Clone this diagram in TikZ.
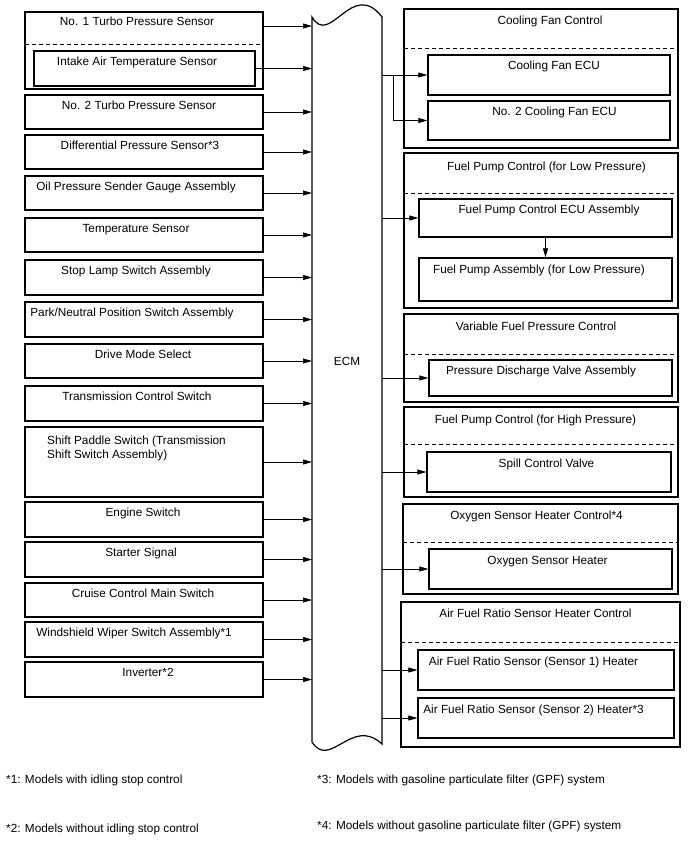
\documentclass[tikz,border=0pt]{standalone}
\usepackage{fontspec}
\setmainfont{Liberation Sans}
\usetikzlibrary{arrows.meta,fit}
\newcommand\bx[6]{\node[#1, fit={(#3,#4) (#5,#6)}] (#2) {};}
\begin{document}
\begin{tikzpicture}[x=1pt,y=-1pt,
  box/.style={draw, line width=1.3pt, inner sep=0pt, rectangle},
  grp/.style={draw, line width=1.1pt, inner sep=0pt, rectangle},
  hid/.style={inner sep=0pt, rectangle},
  dsh/.style={dash pattern=on 4pt off 3pt, line width=1pt},
  txt/.style={font=\fontsize{11.8}{14}\selectfont, inner sep=0pt, anchor=base},
  arr/.style={line width=0.7pt, -{Triangle[length=9pt,width=5pt]}}]
\useasboundingbox (0,0) rectangle (688,852);

% ECM
\draw[line width=1.2pt] (312,17) .. controls (330,48) and (352,-22) .. (382,17) -- (382,744)
  .. controls (352,716) and (330,770) .. (312,742) -- cycle;
\node[txt] (ecm) at (347,365) {ECM};
\coordinate (ecmL) at (312,0);
\coordinate (ecmR) at (382,0);

% left inputs
\bx{box}{b1}{25}{12}{263}{89}
\bx{hid}{b1top}{25}{12}{263}{40}
\draw[dsh] (25,44) -- (263,44);
\bx{box}{b1i}{34}{51}{255}{86}
\bx{box}{b2}{25}{95}{263}{129}
\bx{box}{b3}{25}{135}{263}{169}
\bx{box}{b4}{25}{176}{263}{210}
\bx{box}{b5}{25}{218}{263}{252}
\bx{box}{b6}{25}{260}{263}{295}
\bx{box}{b7}{25}{302}{263}{337}
\bx{box}{b8}{25}{344}{263}{378}
\bx{box}{b9}{25}{386}{263}{421}
\bx{box}{b10}{25}{427}{263}{497}
\bx{box}{b11}{25}{502}{263}{537}
\bx{box}{b12}{25}{542}{263}{577}
\bx{box}{b13}{25}{583}{263}{617}
\bx{box}{b14}{25}{622}{263}{657}
\bx{box}{b15}{25}{662}{263}{697}

\node[txt] (t1) at (137,25) {No. 1 Turbo Pressure Sensor};
\node[txt] (t1i) at (137,65) {Intake Air Temperature Sensor};
\node[txt] (t2) at (139,109) {No. 2 Turbo Pressure Sensor};
\node[txt] (t3) at (140,149) {Differential Pressure Sensor*3};
\node[txt] (t4) at (136,190) {Oil Pressure Sender Gauge Assembly};
\node[txt] (t5) at (136,232) {Temperature Sensor};
\node[txt] (t6) at (136,274) {Stop Lamp Switch Assembly};
\node[txt] (t7) at (132,316) {Park/Neutral Position Switch Assembly};
\node[txt] (t8) at (143,358) {Drive Mode Select};
\node[txt] (t9) at (137,400) {Transmission Control Switch};
\node[txt, anchor=north west, align=left] (t10) at (47,435.5) {Shift Paddle Switch (Transmission\\Shift Switch Assembly)};
\node[txt] (t11) at (143,516) {Engine Switch};
\node[txt] (t12) at (141,556) {Starter Signal};
\node[txt] (t13) at (143,597) {Cruise Control Main Switch};
\node[txt] (t14) at (134,636) {Windshield Wiper Switch Assembly*1};
\node[txt] (t15) at (148,676) {Inverter*2};

\foreach \b in {b1top,b1i,b2,b3,b4,b5,b6,b7,b8,b9,b10,b11,b12,b13,b14,b15}
  \draw[arr] (\b.east) -- (\b.east -| ecmL);

% right outputs
\bx{grp}{g1}{404}{9}{678}{148}
\draw[dsh] (404,48) -- (678,48);
\node[txt] (g1t) at (550,24) {Cooling Fan Control};
\bx{box}{r1}{428}{55}{670}{95}
\node[txt] (r1t) at (554,69) {Cooling Fan ECU};
\bx{box}{r2}{428}{101}{670}{140}
\node[txt] (r2t) at (554.5,115) {No. 2 Cooling Fan ECU};

\bx{grp}{g2}{404}{153}{678}{308}
\draw[dsh] (404,193) -- (678,193);
\node[txt] (g2t) at (546.5,170) {Fuel Pump Control (for Low Pressure)};
\bx{box}{r3}{419}{199}{672}{237}
\node[txt] (r3t) at (549,213) {Fuel Pump Control ECU Assembly};
\bx{box}{r4}{419}{258}{672}{301}
\node[txt] (r4t) at (539,273) {Fuel Pump Assembly (for Low Pressure)};

\bx{grp}{g3}{404}{314}{678}{402}
\draw[dsh] (404,354) -- (678,354);
\node[txt] (g3t) at (536,330) {Variable Fuel Pressure Control};
\bx{box}{r5}{429}{360}{672}{396}
\node[txt] (r5t) at (541,374) {Pressure Discharge Valve Assembly};

\bx{grp}{g4}{404}{407}{678}{497}
\draw[dsh] (404,444) -- (678,444);
\node[txt] (g4t) at (535.5,423) {Fuel Pump Control (for High Pressure)};
\bx{box}{r6}{427}{452}{671}{492}
\node[txt] (r6t) at (546.5,467) {Spill Control Valve};

\bx{grp}{g5}{403}{504}{678}{594}
\draw[dsh] (403,542) -- (678,542);
\node[txt] (g5t) at (536.5,519) {Oxygen Sensor Heater Control*4};
\bx{box}{r7}{429}{549}{672}{589}
\node[txt] (r7t) at (547.5,564) {Oxygen Sensor Heater};

\bx{grp}{g6}{401}{602}{680}{747}
\draw[dsh] (401,642) -- (680,642);
\node[txt] (g6t) at (535.5,617) {Air Fuel Ratio Sensor Heater Control};
\bx{box}{r8}{418}{650}{674}{690}
\node[txt] (r8t) at (533.5,665) {Air Fuel Ratio Sensor (Sensor 1) Heater};
\bx{box}{r9}{418}{698}{674}{738}
\node[txt] (r9t) at (533.5,713) {Air Fuel Ratio Sensor (Sensor 2) Heater*3};

\coordinate (br) at (393,0);
\foreach \r in {r1,r3,r5,r6,r7,r8,r9}
  \draw[arr] (\r.west -| ecmR) -- (\r.west);
\draw[arr] (br |- r1.west) |- (r2.west);
\draw[arr] (r3.south) -- (r4.north);

% footnotes
\node[txt, anchor=base west] (n1) at (6,783) {*1: Models with idling stop control};
\node[txt, anchor=base west] (n2) at (6,832) {*2: Models without idling stop control};
\node[txt, anchor=base west] (n3) at (317,783) {*3: Models with gasoline particulate filter (GPF) system};
\node[txt, anchor=base west] (n4) at (317,829) {*4: Models without gasoline particulate filter (GPF) system};
\end{tikzpicture}
\end{document}
